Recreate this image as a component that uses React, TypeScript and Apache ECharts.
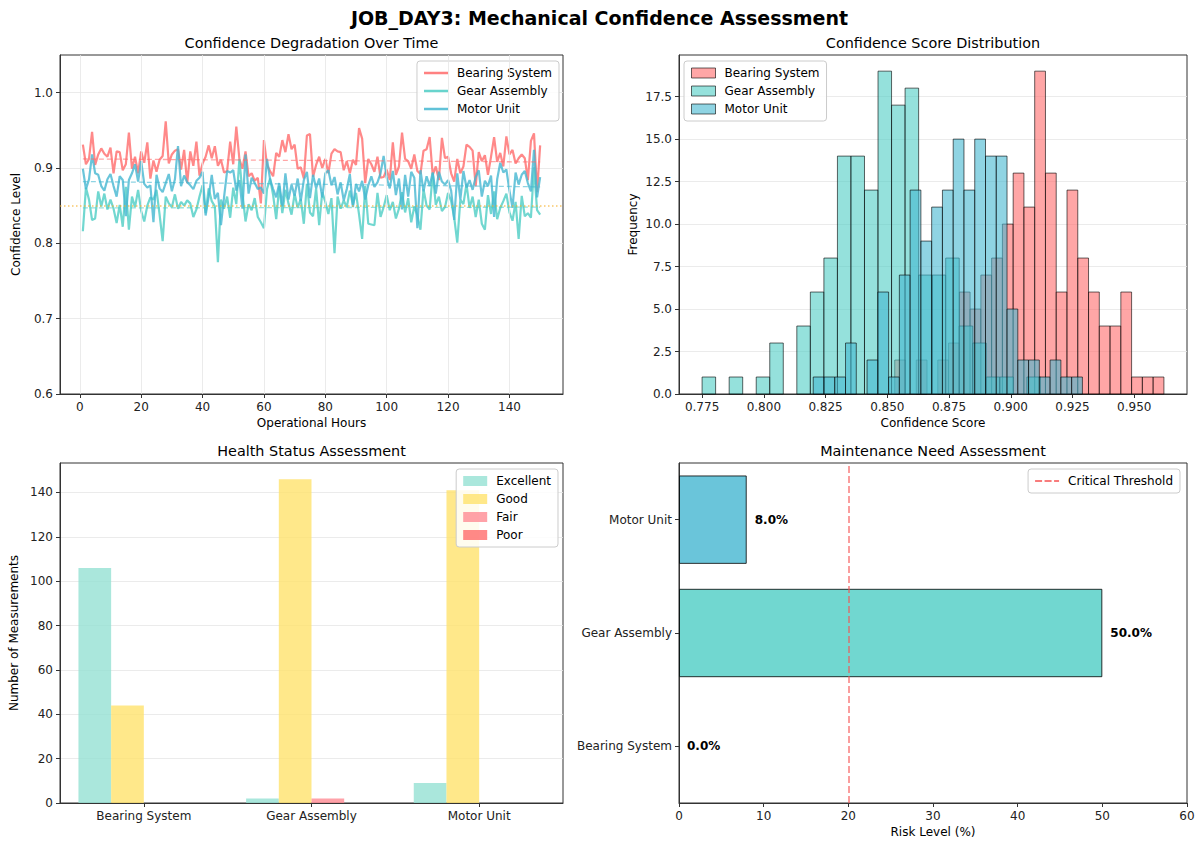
import React, { useEffect, useRef } from 'react';
import * as echarts from 'echarts';

const FONT = 'DejaVu Sans';
const TITLE = 'JOB_DAY3: Mechanical Confidence Assessment';
const COMPONENTS = ['Bearing System', 'Gear Assembly', 'Motor Unit'];
const COLORS = ['#FF6B6B', '#4ECDC4', '#45B7D1'];

const HOURS = Array.from({ length: 150 }, (_, i) => i + 1);

const BEARING = [
  0.931, 0.905, 0.912, 0.948, 0.904, 0.918, 0.926, 0.919, 0.915, 0.927,
  0.893, 0.922, 0.921, 0.897, 0.905, 0.947, 0.899, 0.915, 0.893, 0.922,
  0.907, 0.934, 0.886, 0.910, 0.895, 0.911, 0.916, 0.962, 0.906, 0.918,
  0.923, 0.925, 0.898, 0.924, 0.880, 0.922, 0.903, 0.935, 0.890, 0.906,
  0.915, 0.930, 0.913, 0.929, 0.903, 0.911, 0.894, 0.896, 0.935, 0.905,
  0.955, 0.912, 0.899, 0.922, 0.889, 0.893, 0.883, 0.887, 0.853, 0.937,
  0.904, 0.896, 0.889, 0.920, 0.915, 0.937, 0.921, 0.945, 0.925, 0.931,
  0.899, 0.901, 0.886, 0.943, 0.945, 0.888, 0.904, 0.915, 0.900, 0.912,
  0.893, 0.919, 0.925, 0.922, 0.921, 0.897, 0.909, 0.893, 0.911, 0.904,
  0.953, 0.939, 0.880, 0.912, 0.905, 0.895, 0.915, 0.887, 0.888, 0.898,
  0.884, 0.934, 0.891, 0.902, 0.947, 0.912, 0.909, 0.899, 0.918, 0.896,
  0.892, 0.923, 0.925, 0.941, 0.891, 0.902, 0.884, 0.940, 0.913, 0.915,
  0.893, 0.882, 0.912, 0.893, 0.902, 0.931, 0.928, 0.923, 0.876, 0.921,
  0.909, 0.917, 0.891, 0.915, 0.941, 0.908, 0.920, 0.902, 0.942, 0.918,
  0.924, 0.906, 0.913, 0.918, 0.913, 0.884, 0.936, 0.946, 0.868, 0.930,
];

const GEAR = [
  0.816, 0.874, 0.858, 0.831, 0.833, 0.869, 0.849, 0.866, 0.845, 0.858,
  0.846, 0.827, 0.851, 0.822, 0.875, 0.818, 0.862, 0.848, 0.871, 0.843,
  0.829, 0.850, 0.861, 0.858, 0.871, 0.838, 0.803, 0.862, 0.853, 0.848,
  0.865, 0.846, 0.855, 0.850, 0.857, 0.853, 0.835, 0.845, 0.862, 0.877,
  0.840, 0.873, 0.856, 0.849, 0.775, 0.858, 0.846, 0.862, 0.834, 0.874,
  0.852, 0.912, 0.866, 0.829, 0.852, 0.844, 0.860, 0.835, 0.828, 0.820,
  0.872, 0.886, 0.864, 0.832, 0.876, 0.840, 0.871, 0.853, 0.838, 0.866,
  0.847, 0.859, 0.826, 0.879, 0.841, 0.836, 0.873, 0.824, 0.868, 0.855,
  0.839, 0.860, 0.787, 0.862, 0.846, 0.857, 0.848, 0.870, 0.851, 0.867,
  0.838, 0.806, 0.876, 0.826, 0.825, 0.824, 0.867, 0.835, 0.848, 0.864,
  0.844, 0.855, 0.833, 0.846, 0.868, 0.841, 0.860, 0.828, 0.849, 0.837,
  0.818, 0.872, 0.850, 0.845, 0.893, 0.851, 0.862, 0.843, 0.848, 0.867,
  0.856, 0.834, 0.801, 0.858, 0.852, 0.879, 0.847, 0.862, 0.835, 0.858,
  0.826, 0.818, 0.864, 0.839, 0.869, 0.832, 0.847, 0.856, 0.866, 0.841,
  0.830, 0.855, 0.806, 0.863, 0.836, 0.840, 0.834, 0.901, 0.844, 0.838,
];

const MOTOR = [
  0.899, 0.872, 0.885, 0.918, 0.893, 0.891, 0.876, 0.870, 0.885, 0.892,
  0.876, 0.862, 0.889, 0.884, 0.836, 0.884, 0.893, 0.905, 0.882, 0.909,
  0.879, 0.874, 0.877, 0.828, 0.891, 0.873, 0.868, 0.880, 0.892, 0.869,
  0.885, 0.929, 0.876, 0.890, 0.881, 0.877, 0.872, 0.883, 0.887, 0.895,
  0.837, 0.862, 0.891, 0.859, 0.867, 0.824, 0.861, 0.896, 0.894, 0.897,
  0.870, 0.884, 0.846, 0.918, 0.866, 0.887, 0.880, 0.872, 0.874, 0.866,
  0.912, 0.885, 0.872, 0.861, 0.880, 0.849, 0.893, 0.858, 0.878, 0.863,
  0.886, 0.856, 0.884, 0.895, 0.860, 0.891, 0.873, 0.886, 0.861, 0.893,
  0.897, 0.877, 0.888, 0.865, 0.881, 0.857, 0.872, 0.892, 0.848, 0.879,
  0.869, 0.883, 0.858, 0.877, 0.889, 0.875, 0.881, 0.893, 0.916, 0.887,
  0.873, 0.896, 0.864, 0.886, 0.845, 0.891, 0.862, 0.895, 0.887, 0.820,
  0.897, 0.869, 0.889, 0.876, 0.894, 0.866, 0.895, 0.882, 0.878, 0.884,
  0.870, 0.831, 0.893, 0.858, 0.896, 0.874, 0.884, 0.871, 0.888, 0.897,
  0.862, 0.883, 0.876, 0.890, 0.835, 0.885, 0.907, 0.894, 0.898, 0.870,
  0.847, 0.894, 0.878, 0.891, 0.896, 0.880, 0.869, 0.924, 0.861, 0.888,
];

const SERIES = [BEARING, GEAR, MOTOR];
const TREND_START = [0.912, 0.847, 0.882];
const TREND_END = [0.908, 0.848, 0.875];
const THRESHOLD = 0.85;
const TIME_TICKS = [0, 20, 40, 60, 80, 100, 120, 140];
const CONF_TICKS = [0.6, 0.7, 0.8, 0.9, 1.0];

const BEARING_HIST = [2, 0, 2, 0, 2, 3, 6, 5, 7, 8, 10, 13, 11, 19, 13, 6, 12, 8, 6, 4, 4, 6, 1, 1, 1];
const GEAR_HIST = [1, 0, 1, 0, 1, 3, 0, 4, 6, 8, 14, 14, 12, 19, 17, 18, 7, 7, 8, 4, 3, 1, 1, 0, 1];
const MOTOR_HIST = [1, 1, 1, 3, 0, 2, 6, 1, 7, 12, 9, 11, 12, 15, 12, 15, 14, 14, 5, 2, 2, 1, 2, 1, 1];
const HISTS = [BEARING_HIST, GEAR_HIST, MOTOR_HIST];
const SCORE_TICKS = [0.775, 0.8, 0.825, 0.85, 0.875, 0.9, 0.925, 0.95];
const FREQ_TICKS = [0, 2.5, 5, 7.5, 10, 12.5, 15, 17.5];

const HEALTH_LEVELS = ['Excellent', 'Good', 'Fair', 'Poor'];
const EXCELLENT = [106, 2, 9];
const GOOD = [44, 146, 141];
const FAIR = [0, 2, 0];
const POOR = [0, 0, 0];
const HEALTH = [EXCELLENT, GOOD, FAIR, POOR];
const HEALTH_COLORS = [
  'rgba(149,225,211,0.8)',
  'rgba(255,226,109,0.8)',
  'rgba(255,139,148,0.8)',
  'rgba(255,107,107,0.8)',
];
const COUNT_TICKS = [0, 20, 40, 60, 80, 100, 120, 140];

const RISK = [0, 50, 8];
const RISK_COLORS = ['rgba(255,107,107,0.8)', 'rgba(78,205,196,0.8)', 'rgba(69,183,209,0.8)'];
const CRITICAL = 20;

const HIST_FILL = ['rgba(255,107,107,0.6)', 'rgba(78,205,196,0.6)', 'rgba(69,183,209,0.6)'];

function histBins(values: number[], counts: number[]) {
  const lo = Math.min(...values);
  const hi = Math.max(...values);
  const w = (hi - lo) / counts.length;
  return counts.map((c, i) => [lo + i * w, lo + (i + 1) * w, c]);
}

const GRID_COLOR = '#e6e6e6';
const INK = '#333';

function valueAxis(extra: any) {
  return {
    type: 'value',
    axisLine: { show: true, onZero: false, lineStyle: { color: INK, width: 1 } },
    axisTick: { show: true, length: 4, lineStyle: { color: INK, width: 1 }, ...(extra.tickExtra || {}) },
    axisLabel: { color: '#222', fontSize: 12, fontFamily: FONT, margin: 7, ...(extra.labelExtra || {}) },
    splitLine: extra.split
      ? { show: true, lineStyle: { color: GRID_COLOR, width: 0.8 } }
      : { show: false },
    nameLocation: 'middle',
    nameTextStyle: { color: '#000', fontSize: 12, fontFamily: FONT },
    ...extra.rest,
  };
}

function categoryAxis(extra: any) {
  return {
    type: 'category',
    axisLine: { show: true, onZero: false, lineStyle: { color: INK, width: 1 } },
    axisTick: { show: true, alignWithLabel: true, length: 4, lineStyle: { color: INK, width: 1 } },
    axisLabel: { color: '#222', fontSize: 12, fontFamily: FONT, margin: 7 },
    splitLine: { show: false },
    ...extra,
  };
}

function legendBase(extra: any) {
  return {
    orient: 'vertical',
    itemWidth: 24,
    itemGap: 4,
    padding: [5, 7, 5, 7],
    borderColor: '#cccccc',
    borderWidth: 1,
    borderRadius: 3,
    backgroundColor: 'rgba(255,255,255,0.85)',
    selectedMode: false,
    textStyle: { fontSize: 12, color: '#000', fontFamily: FONT, lineHeight: 14, padding: [0, 0, 0, 4] },
    ...extra,
  };
}

export default function App() {
  const ref = useRef<HTMLDivElement>(null);

  useEffect(() => {
    if (!ref.current) return;
    const chart = echarts.init(ref.current, undefined, { renderer: 'svg' });

    const hPad = (HOURS[HOURS.length - 1] - HOURS[0]) * 0.05;
    const allScores = [...BEARING, ...GEAR, ...MOTOR];
    const sLo = Math.min(...allScores);
    const sHi = Math.max(...allScores);
    const sPad = (sHi - sLo) * 0.05;
    const maxFreq = Math.max(...HISTS.map((h) => Math.max(...h)));
    const maxCount = Math.max(...HEALTH.map((h) => Math.max(...h)));

    const G = [
      { left: 60, top: 55, width: 503, height: 339 },
      { left: 679, top: 55, width: 508, height: 339 },
      { left: 60, top: 463, width: 503, height: 340 },
      { left: 679, top: 463, width: 508, height: 340 },
    ];

    const lineSeries = COMPONENTS.map((name, k) => ({
      type: 'line',
      name,
      xAxisIndex: 0,
      yAxisIndex: 0,
      data: HOURS.map((h, i) => [h, SERIES[k][i]]),
      showSymbol: false,
      symbol: 'none',
      lineStyle: { color: COLORS[k], width: 2.2, opacity: 0.8 },
      itemStyle: { color: COLORS[k] },
      z: 3,
      markLine: {
        silent: true,
        symbol: ['none', 'none'],
        label: { show: false },
        lineStyle: { color: COLORS[k], type: [5, 3], width: 1.3, opacity: 0.6 },
        emphasis: { disabled: true },
        data: [[{ coord: [HOURS[0], TREND_START[k]] }, { coord: [HOURS[HOURS.length - 1], TREND_END[k]] }]],
      },
    }));

    const histSeries = COMPONENTS.map((name, k) => ({
      type: 'custom',
      name: 'hist-' + name,
      xAxisIndex: 1,
      yAxisIndex: 1,
      dimensions: ['x0', 'x1', 'count'],
      encode: { x: [0, 1], y: 2 },
      data: histBins(SERIES[k], HISTS[k]),
      itemStyle: { color: HIST_FILL[k], borderColor: 'rgba(0,0,0,0.6)', borderWidth: 1 },
      renderItem: (params: any, api: any) => {
        const c = api.value(2);
        if (!c) return null;
        const p0 = api.coord([api.value(0), c]);
        const p1 = api.coord([api.value(1), 0]);
        return {
          type: 'rect',
          shape: { x: p0[0], y: p0[1], width: p1[0] - p0[0], height: p1[1] - p0[1] },
          style: { fill: HIST_FILL[k], stroke: 'rgba(0,0,0,0.6)', lineWidth: 1 },
        };
      },
      z: 2 + k,
    }));

    const healthSeries = HEALTH_LEVELS.map((lvl, j) => ({
      type: 'bar',
      name: lvl,
      xAxisIndex: 2,
      yAxisIndex: 2,
      data: HEALTH[j],
      barWidth: '19.5%',
      barGap: '0%',
      itemStyle: { color: HEALTH_COLORS[j] },
    }));

    const subTitle = (text: string, x: number, y: number) => ({
      type: 'text',
      x,
      y,
      silent: true,
      style: {
        text,
        fontSize: 14.4,
        fontFamily: FONT,
        fill: '#000',
        align: 'center',
        verticalAlign: 'middle',
      },
    });

    const option: any = {
      animation: false,
      textStyle: { fontFamily: FONT },
      graphic: [
        {
          type: 'text',
          x: 599.5,
          y: 18,
          silent: true,
          style: {
            text: TITLE,
            fontSize: 19,
            fontWeight: 'bold',
            fontFamily: FONT,
            fill: '#000',
            align: 'center',
            verticalAlign: 'middle',
          },
        },
        subTitle('Confidence Degradation Over Time', G[0].left + G[0].width / 2, 43),
        subTitle('Confidence Score Distribution', G[1].left + G[1].width / 2, 43),
        subTitle('Health Status Assessment', G[2].left + G[2].width / 2, 451),
        subTitle('Maintenance Need Assessment', G[3].left + G[3].width / 2, 451),
      ],
      grid: G.map((g) => ({ ...g, show: true, borderColor: INK, borderWidth: 1, containLabel: false })),
      legend: [
        legendBase({
          right: 640,
          top: 61,
          itemHeight: 2.5,
          icon: 'rect',
          data: COMPONENTS.map((n, k) => ({ name: n, itemStyle: { color: COLORS[k], opacity: 0.85 } })),
        }),
        legendBase({
          left: 684,
          top: 61,
          itemHeight: 10,
          icon: 'rect',
          formatter: (n: string) => n.replace('hist-', ''),
          data: COMPONENTS.map((n, k) => ({
            name: 'hist-' + n,
            itemStyle: { color: HIST_FILL[k], borderColor: 'rgba(0,0,0,0.6)', borderWidth: 1 },
          })),
        }),
        legendBase({
          right: 641,
          top: 469,
          itemHeight: 10,
          icon: 'rect',
          data: HEALTH_LEVELS.map((n, j) => ({ name: n, itemStyle: { color: HEALTH_COLORS[j] } })),
        }),
        legendBase({
          right: 19,
          top: 469,
          itemHeight: 2,
          data: [
            {
              name: 'Critical Threshold',
              icon: 'path://M0,0h7v2h-7zM9.5,0h7v2h-7zM19,0h5v2h-5z',
              itemStyle: { color: 'rgba(245,80,80,0.75)' },
            },
          ],
        }),
      ],
      xAxis: [
        valueAxis({
          tickExtra: { customValues: TIME_TICKS },
          labelExtra: { customValues: TIME_TICKS },
          rest: {
            gridIndex: 0,
            min: HOURS[0] - hPad,
            max: HOURS[HOURS.length - 1] + hPad,
            name: 'Operational Hours',
            nameGap: 23,
          },
        }),
        valueAxis({
          tickExtra: { customValues: SCORE_TICKS },
          labelExtra: { customValues: SCORE_TICKS, formatter: (v: number) => v.toFixed(3) },
          rest: {
            gridIndex: 1,
            min: sLo - sPad,
            max: sHi + sPad,
            name: 'Confidence Score',
            nameGap: 23,
          },
        }),
        categoryAxis({ gridIndex: 2, data: COMPONENTS }),
        valueAxis({
          rest: {
            gridIndex: 3,
            min: 0,
            max: 60,
            interval: 10,
            name: 'Risk Level (%)',
            nameGap: 23,
          },
        }),
      ],
      yAxis: [
        valueAxis({
          split: true,
          tickExtra: { customValues: CONF_TICKS },
          labelExtra: { customValues: CONF_TICKS, formatter: (v: number) => v.toFixed(1) },
          rest: {
            gridIndex: 0,
            min: 0.6,
            max: 1.05,
            interval: 0.1,
            name: 'Confidence Level',
            nameGap: 38,
          },
        }),
        valueAxis({
          split: true,
          tickExtra: { customValues: FREQ_TICKS },
          labelExtra: { customValues: FREQ_TICKS, formatter: (v: number) => v.toFixed(1) },
          rest: {
            gridIndex: 1,
            min: 0,
            max: maxFreq * 1.05,
            interval: 2.5,
            name: 'Frequency',
            nameGap: 40,
          },
        }),
        valueAxis({
          split: true,
          tickExtra: { customValues: COUNT_TICKS },
          labelExtra: { customValues: COUNT_TICKS },
          rest: {
            gridIndex: 2,
            min: 0,
            max: maxCount * 1.05,
            interval: 20,
            name: 'Number of Measurements',
            nameGap: 40,
          },
        }),
        categoryAxis({ gridIndex: 3, data: COMPONENTS }),
      ],
      series: [
        {
          type: 'line',
          name: 'grid-x',
          xAxisIndex: 0,
          yAxisIndex: 0,
          data: [],
          z: 1,
          markLine: {
            silent: true,
            symbol: ['none', 'none'],
            label: { show: false },
            emphasis: { disabled: true },
            lineStyle: { color: GRID_COLOR, type: 'solid', width: 0.8 },
            data: TIME_TICKS.map((v) => ({ xAxis: v })),
          },
        },
        ...lineSeries,
        {
          type: 'line',
          name: 'threshold',
          xAxisIndex: 0,
          yAxisIndex: 0,
          data: [],
          z: 4,
          markLine: {
            silent: true,
            symbol: ['none', 'none'],
            label: { show: false },
            emphasis: { disabled: true },
            lineStyle: { color: 'rgba(245,175,40,0.7)', type: [1.5, 2.5], width: 1.5 },
            data: [{ yAxis: THRESHOLD }],
          },
        },
        ...histSeries,
        ...healthSeries,
        {
          type: 'bar',
          name: 'Risk Level',
          xAxisIndex: 3,
          yAxisIndex: 3,
          data: RISK.map((v, i) => ({
            value: v,
            itemStyle: { color: RISK_COLORS[i], borderWidth: v === 0 ? 0 : 1 },
          })),
          barWidth: '78%',
          itemStyle: { borderColor: 'rgba(0,0,0,0.8)', borderWidth: 1 },
          label: {
            show: true,
            position: 'right',
            distance: 8,
            formatter: (p: any) => Number(p.value).toFixed(1) + '%',
            fontWeight: 'bold',
            fontSize: 12,
            color: '#000',
            fontFamily: FONT,
          },
        },
        {
          type: 'line',
          name: 'Critical Threshold',
          xAxisIndex: 3,
          yAxisIndex: 3,
          data: [],
          lineStyle: { color: 'rgba(245,80,80,0.75)' },
          itemStyle: { color: 'rgba(245,80,80,0.75)' },
          z: 5,
          markLine: {
            silent: true,
            symbol: ['none', 'none'],
            label: { show: false },
            emphasis: { disabled: true },
            lineStyle: { color: 'rgba(245,80,80,0.75)', type: [7, 3], width: 1.5 },
            data: [{ xAxis: CRITICAL }],
          },
        },
      ],
    };

    chart.setOption(option);
    return () => chart.dispose();
  }, []);

  return (
    <div
      ref={ref}
      style={{ position: 'absolute', left: 0, top: 0, width: 1199, height: 850, background: '#fff' }}
    />
  );
}
